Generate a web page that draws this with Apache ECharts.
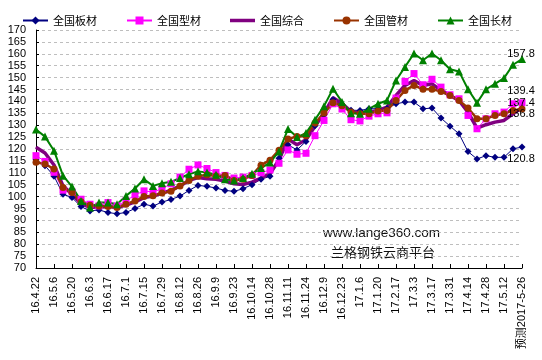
<!DOCTYPE html>
<html>
<head>
<meta charset="utf-8">
<script src="https://cdn.jsdelivr.net/npm/echarts@6/dist/echarts.min.js"></script>
<style>
html,body{margin:0;padding:0;background:#fff;}
#chart{width:542px;height:360px;}
</style>
</head>
<body>
<div id="chart"></div>
<script>
const categories = ['16.4.22','16.4.29','16.5.6','16.5.13','16.5.20','16.5.27','16.6.3','16.6.10','16.6.17','16.6.24',
  '16.7.1','16.7.8','16.7.15','16.7.22','16.7.29','16.8.5','16.8.12','16.8.19','16.8.26','16.9.2',
  '16.9.9','16.9.14','16.9.23','16.9.30','16.10.14','16.10.21','16.10.28','16.11.4','16.11.11','16.11.18',
  '16.11.24','16.12.2','16.12.9','16.12.16','16.12.23','16.12.30','17.1.6','17.1.13','17.1.20','17.2.10',
  '17.2.17','17.2.24','17.3.3','17.3.10','17.3.17','17.3.24','17.3.31','17.4.7','17.4.14','17.4.21',
  '17.4.28','17.5.5','17.5.12','17.5.19','预测2017-5-26'];

const banCai = [115.5,113.0,108.6,101.0,99.6,95.8,94.0,94.4,93.3,92.8,
  93.3,95.0,96.8,96.0,97.7,98.8,100.2,102.6,104.7,104.3,
  103.6,102.6,102.2,103.3,105.0,107.3,108.5,116.1,121.8,119.6,
  123.2,129.8,134.4,140.8,138.0,136.3,136.2,136.9,136.9,137.0,
  139.0,139.7,139.7,136.9,137.2,133.0,129.6,126.4,118.9,115.8,
  117.2,116.5,116.5,120.1,120.8];

const xingCai = [117.2,114.8,110.2,102.7,102.0,98.9,96.8,96.1,97.5,96.1,
  98.2,100.7,102.4,101.9,103.3,105.4,108.2,111.5,113.3,111.8,
  110.1,108.9,107.8,108.2,108.9,110.0,111.2,114.0,119.6,117.8,
  118.2,125.6,132.0,139.0,136.8,132.3,131.8,133.8,134.8,135.2,
  141.4,148.4,151.7,147.0,149.3,146.0,142.8,141.1,134.1,128.5,
  132.7,134.8,135.5,139.0,139.4];

const zongHe = [120.7,118.3,113.3,104.5,101.0,97.2,95.4,95.7,95.8,95.4,
  96.4,97.8,99.6,100.2,101.5,102.6,104.5,106.8,108.0,107.5,
  107.3,106.5,105.4,105.1,106.1,107.8,109.6,115.5,124.2,121.8,
  123.9,129.5,135.1,141.5,139.1,135.8,135.2,135.5,136.2,137.6,
  142.5,146.7,148.8,146.7,147.4,144.6,142.5,140.4,135.5,128.8,
  130.2,131.3,132.0,134.8,137.4];

const guanCai = [114.4,113.7,111.6,103.8,101.7,97.8,96.4,96.1,95.8,95.4,
  96.8,98.2,100.0,100.4,101.5,102.2,104.5,106.8,108.6,109.2,
  108.7,108.9,106.8,107.3,108.9,113.2,115.3,119.5,124.2,125.3,
  125.6,130.9,135.1,139.4,138.2,135.5,134.8,134.8,136.0,136.2,
  140.4,144.6,146.7,145.1,145.1,144.2,142.5,140.4,137.2,132.7,
  132.7,134.1,134.8,136.2,136.8];

const changCai = [128.2,125.2,119.3,108.8,104.2,98.2,95.4,97.5,97.5,96.8,
  100.3,103.4,107.3,104.5,105.6,106.2,107.8,109.4,110.6,110.1,
  109.2,107.3,106.8,107.8,109.6,112.0,114.3,119.0,128.4,125.0,
  126.7,132.3,138.0,145.3,139.8,135.0,134.8,136.9,139.0,140.4,
  148.8,154.5,160.1,157.3,160.1,157.3,153.5,152.6,145.1,139.4,
  145.1,147.4,149.8,155.4,157.8];

const seriesNames = ['全国板材','全国型材','全国综合','全国管材','全国长材'];

const chart = echarts.init(document.getElementById('chart'), null, {renderer:'canvas'});

const labelFont = {color:'#000', fontSize:11, fontFamily:'Liberation Sans, Arial, sans-serif'};

function withEndLabel(arr, offset){
  return arr.map((v,i)=> i===arr.length-1 ? {
    value: v,
    label: Object.assign({show:true, position:'inside', offset: offset, formatter: v.toFixed(1)}, labelFont)
  } : v);
}

const option = {
  animation: false,
  backgroundColor: '#fff',
  legend: {
    left: 17, top: 10,
    itemWidth: 25, itemHeight: 10, itemGap: 29,
    symbolKeepAspect: true,
    textStyle: {fontSize: 11, color:'#000', fontFamily:'Noto Sans CJK SC, sans-serif'},
    data: seriesNames.map(n => n === '全国综合'
      ? {name: n, icon: 'path://M0,0H25V3.5H0Z'}
      : n)
  },
  grid: {left: 36, right: 20, top: 30, bottom: 92, containLabel: false},
  xAxis: {
    type: 'category', boundaryGap: false, data: categories,
    axisLine: {lineStyle: {color:'#000', width:1}},
    axisTick: {inside: true, length: 4, interval: 1, lineStyle:{color:'#000'}},
    axisLabel: {interval: 1, rotate: 90, margin: 9, fontSize: 11, color:'#000',
      fontFamily:'Liberation Sans, Noto Sans CJK SC, sans-serif'},
    splitLine: {show:false}
  },
  yAxis: {
    type: 'value', min: 70, max: 170, interval: 5,
    axisLine: {show: true, lineStyle: {color:'#000', width:1}},
    axisTick: {show: true, inside: true, length: 3, lineStyle:{color:'#000'}},
    axisLabel: {margin: 10, fontSize: 11, color:'#000', fontFamily:'Liberation Sans, Arial, sans-serif'},
    splitLine: {show: true, lineStyle: {color:'#BEBEBE', type:[3,3], width:1}}
  },
  series: [
    {name:'全国板材', type:'line', data: withEndLabel(banCai,[-1,11.5]), symbol:'diamond', symbolSize:7,
      showAllSymbol:true,
      color:'#000080', lineStyle:{width:1, color:'#000080'}, itemStyle:{color:'#000080'}},
    {name:'全国型材', type:'line', data: withEndLabel(xingCai,[-1,-12]), symbol:'rect', symbolSize:7,
      showAllSymbol:true,
      color:'#FF00FF', lineStyle:{width:1, color:'#FF00FF'}, itemStyle:{color:'#FF00FF'}},
    {name:'全国综合', type:'line', data: withEndLabel(zongHe,[-1,-5]), symbol:'circle', symbolSize:1,
      showAllSymbol:true,
      color:'#800080', lineStyle:{width:3.5, color:'#800080'}, itemStyle:{color:'#800080'}},
    {name:'全国管材', type:'line', data: withEndLabel(guanCai,[-1,4.5]), symbol:'circle', symbolSize:7,
      showAllSymbol:true,
      color:'#993300', lineStyle:{width:2.5, color:'#993300'}, itemStyle:{color:'#993300'}},
    {name:'全国长材', type:'line', data: withEndLabel(changCai,[-1,-5]), symbol:'triangle', symbolSize:8,
      showAllSymbol:true,
      color:'#008000', lineStyle:{width:2, color:'#008000'}, itemStyle:{color:'#008000'}}
  ],
  graphic: [
    {type:'text', left: 382 - 59, top: 226, style:{text:'www.lange360.com', fontSize:13.5,
      fontFamily:'Liberation Sans, Arial, sans-serif', fill:'#111'}},
    {type:'text', left: 383 - 52, top: 246, style:{text:'兰格钢铁云商平台', fontSize:13,
      fontFamily:'Noto Sans CJK SC, sans-serif', fill:'#111'}}
  ]
};
chart.setOption(option);
</script>
</body>
</html>
